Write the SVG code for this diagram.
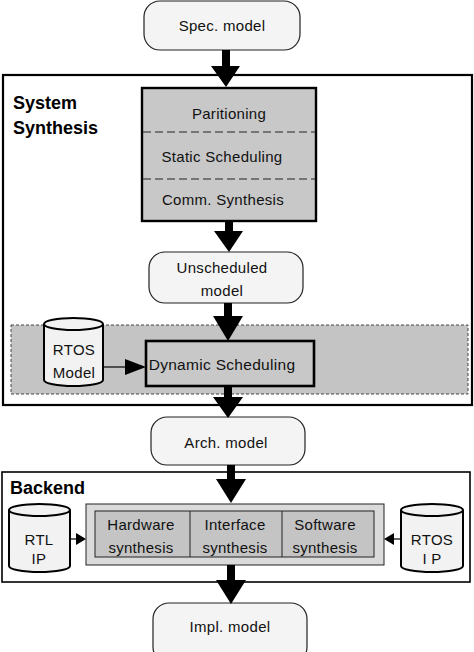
<svg xmlns="http://www.w3.org/2000/svg" width="474" height="652" viewBox="0 0 474 652">
<style>
.t{font-family:"Liberation Sans",Arial,sans-serif;font-size:15px;fill:#111;text-anchor:middle;letter-spacing:0.3px}
.b{font-family:"Liberation Sans",Arial,sans-serif;font-size:18px;font-weight:bold;fill:#000}
.term{fill:#f4f4f4;stroke:#222;stroke-width:1.2}
.cyl{fill:#f2f2f2;stroke:#000;stroke-width:2}
.arr{fill:#000}
</style>
<rect width="474" height="652" fill="#fff"/>
<g id="system-synthesis">
<rect x="3" y="75" width="469" height="330" fill="#fff" stroke="#000" stroke-width="2.2"/>
<text class="b" x="13" y="109">System</text>
<text class="b" x="13" y="134">Synthesis</text>
</g>
<g id="dynamic-band">
<rect x="11" y="325" width="457" height="69" fill="#c4c4c4" stroke="#444" stroke-width="1" stroke-dasharray="3,2"/>
</g>
<g id="backend">
<rect x="2" y="472" width="468" height="110" fill="#fff" stroke="#000" stroke-width="1.6"/>
<text class="b" x="10" y="494">Backend</text>
</g>
<g id="spec-model">
<rect class="term" x="144" y="1" width="156" height="49" rx="16"/>
<text class="t" x="222" y="31">Spec. model</text>
</g>
<g id="synthesis-steps">
<rect x="142" y="88" width="174" height="133" fill="#c8c8c8" stroke="#000" stroke-width="2.4"/>
<line x1="143" y1="132" x2="315" y2="132" stroke="#222" stroke-width="1" stroke-dasharray="8,4"/>
<line x1="143" y1="179" x2="315" y2="179" stroke="#222" stroke-width="1" stroke-dasharray="8,4"/>
<text class="t" x="229" y="119">Paritioning</text>
<text class="t" x="222" y="162">Static Scheduling</text>
<text class="t" x="223" y="205">Comm. Synthesis</text>
</g>
<g id="unscheduled-model">
<rect class="term" x="149" y="252" width="154" height="51" rx="16"/>
<text class="t" x="222" y="273">Unscheduled</text>
<text class="t" x="222" y="296">model</text>
</g>
<g id="rtos-model">
<path class="cyl" d="M44,324 A29.5,6 0 0 1 103,324 L103,380 A29.5,6 0 0 1 44,380 Z"/>
<path d="M44,324 A29.5,6 0 0 0 103,324" fill="none" stroke="#000" stroke-width="2"/>
<text class="t" x="74" y="355">RTOS</text>
<text class="t" x="74" y="378">Model</text>
</g>
<g id="dynamic-scheduling">
<rect x="146" y="341" width="168" height="45" fill="#c8c8c8" stroke="#000" stroke-width="2.6"/>
<text class="t" x="222" y="370" style="font-size:15.5px">Dynamic Scheduling</text>
</g>
<g id="arch-model">
<rect class="term" x="151" y="417" width="154" height="48" rx="16"/>
<text class="t" x="226" y="448">Arch. model</text>
</g>
<g id="backend-synthesis">
<rect x="86" y="504" width="298" height="61" fill="#dadada" stroke="#222" stroke-width="1"/>
<rect x="95" y="511" width="279" height="46" fill="#c4c4c4" stroke="#222" stroke-width="1"/>
<line x1="190" y1="511" x2="190" y2="557" stroke="#222" stroke-width="1"/>
<line x1="282" y1="511" x2="282" y2="557" stroke="#222" stroke-width="1"/>
<text class="t" x="141" y="530">Hardware</text>
<text class="t" x="141" y="553">synthesis</text>
<text class="t" x="235" y="530">Interface</text>
<text class="t" x="235" y="553">synthesis</text>
<text class="t" x="325" y="530">Software</text>
<text class="t" x="325" y="553">synthesis</text>
</g>
<g id="rtl-ip">
<path class="cyl" d="M9,510 A30.5,6 0 0 1 70,510 L70,566 A30.5,6 0 0 1 9,566 Z"/>
<path d="M9,510 A30.5,6 0 0 0 70,510" fill="none" stroke="#000" stroke-width="2"/>
<text class="t" x="39" y="545">RTL</text>
<text class="t" x="39" y="564">IP</text>
</g>
<g id="rtos-ip">
<path class="cyl" d="M401,510 A31,6 0 0 1 463,510 L463,566 A31,6 0 0 1 401,566 Z"/>
<path d="M401,510 A31,6 0 0 0 463,510" fill="none" stroke="#000" stroke-width="2"/>
<text class="t" x="432" y="545">RTOS</text>
<text class="t" x="432" y="564">I P</text>
</g>
<g id="impl-model">
<rect class="term" x="153" y="603" width="154" height="60" rx="16"/>
<text class="t" x="230" y="632">Impl.  model</text>
</g>
<g id="connectors">
<rect class="arr" x="222" y="50" width="8" height="17"/>
<polygon class="arr" points="211,66 240,66 226,87"/>
<rect class="arr" x="225" y="221" width="8" height="11"/>
<polygon class="arr" points="214,231 243,231 229,252"/>
<rect class="arr" x="224" y="303" width="8" height="14"/>
<polygon class="arr" points="213,316 243,316 228,341"/>
<rect class="arr" x="224" y="386" width="8" height="12"/>
<polygon class="arr" points="213,397 243,397 228,418"/>
<rect class="arr" x="227" y="465" width="8" height="15"/>
<polygon class="arr" points="216,479 246,479 231,503"/>
<rect class="arr" x="227" y="565" width="8" height="16"/>
<polygon class="arr" points="216,580 246,580 231,604"/>
<line x1="103" y1="367" x2="126" y2="367" stroke="#000" stroke-width="1.2"/>
<polygon class="arr" points="125,359 146,367 125,375"/>
<line x1="70" y1="539" x2="77" y2="539" stroke="#000" stroke-width="1.2"/>
<polygon class="arr" points="76,533 86,539 76,545"/>
<line x1="401" y1="539" x2="393" y2="539" stroke="#000" stroke-width="1.2"/>
<polygon class="arr" points="394,533 384,539 394,545"/>
</g>
</svg>
